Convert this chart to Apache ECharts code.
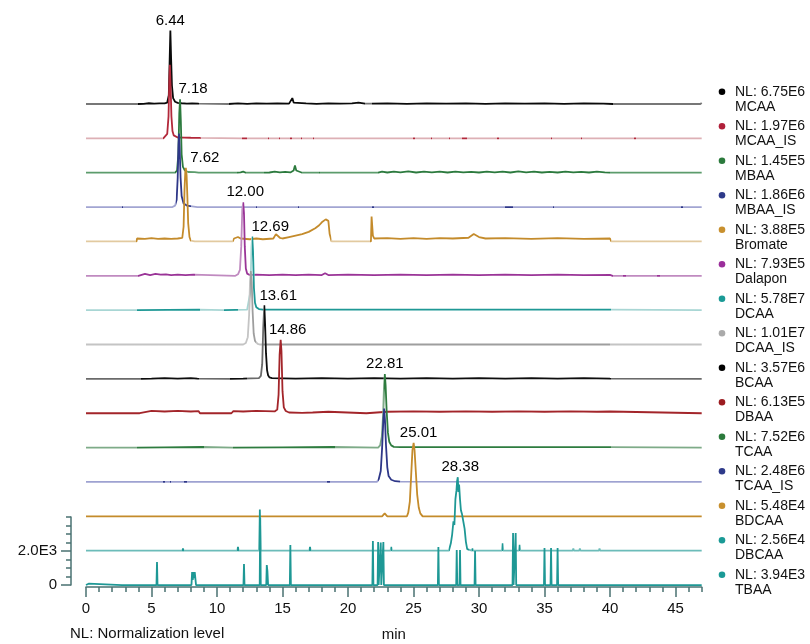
<!DOCTYPE html>
<html>
<head>
<meta charset="utf-8">
<script src="https://cdn.jsdelivr.net/npm/echarts@6/dist/echarts.min.js"></script>
<style>
  html, body { margin: 0; padding: 0; background: #fff; }
  #chart { width: 810px; height: 644px; }
</style>
</head>
<body>
<div id="chart"></div>
<script>
// ---- Data ---------------------------------------------------------------
// Traces listed top to bottom
const traceNames = ['MCAA', 'MCAA_IS', 'MBAA', 'MBAA_IS', 'Bromate', 'Dalapon', 'DCAA', 'DCAA_IS',
  'BCAA', 'DBAA', 'TCAA', 'TCAA_IS', 'BDCAA', 'DBCAA', 'TBAA'];
// Normalization level of each trace
const nlLevels = ['6.75E6', '1.97E6', '1.45E5', '1.86E6', '3.88E5', '7.93E5', '5.78E7', '1.01E7',
  '3.57E6', '6.13E5', '7.52E6', '2.48E6', '5.48E4', '2.56E4', '3.94E3'];
// Labelled retention times (min), null when a trace carries no label
const peakTimes = [6.44, null, 7.18, null, 7.62, 12.00, 12.69, null, 13.61, 14.86, 22.81, null, 25.01, 28.38, null];
// Axis tick labels
const xTickLabels = [0, 5, 10, 15, 20, 25, 30, 35, 40, 45];
const yTickLabels = [0, 2000];
const yMinorTicks = [500, 1000, 1500, 2500, 3000, 3500, 4000];

// Each trace: [time (min), relative intensity %]; TBAA in counts
const mcaa = [[0,0],[3.95,0],[4.0,0.8],[4.4,0.3],[4.8,1],[5.2,0.4],[5.6,0.9],[6.0,0.8],[6.2,2],[6.32,12],[6.38,55],[6.44,100],[6.5,60],[6.56,25],[6.65,8],[6.8,3],[7.0,1.5],[7.3,1],[7.7,0.5],[8.1,0.9],[8.6,0.4],[8.7,0],[10.85,0],[10.9,2],[11.0,0.4],[11.6,0.9],[12.3,0.3],[13.0,0.9],[13.8,0.4],[14.6,0.9],[15.5,0.5],[15.65,2],[15.75,8],[15.85,2],[16.0,0.5],[16.8,0.9],[17.6,0.3],[18.5,0.9],[19.4,0.4],[20.3,0.9],[20.8,1.8],[21.3,0.4],[21.8,0.6],[23,0.9],[24.5,0.3],[26,0.9],[27.5,0.4],[29,0.9],[30.5,0.3],[32,0.9],[33.5,0.4],[35,0.9],[36.5,0.3],[38,0.9],[39.5,0.4],[40.2,0],[46.9,0],[47,1.5]];
const mcaaIS = [[0,0],[4.2,0],[4.25,2],[4.3,0],[5.9,0],[6.05,1.5],[6.2,6],[6.3,30],[6.36,80],[6.40,100],[6.46,70],[6.52,30],[6.6,10],[6.7,4],[6.85,2],[7.0,1.2],[7.5,1],[8.0,0.8],[8.7,0.6],[8.8,0],[11.9,0],[12.0,2],[12.1,0],[12.2,2],[12.3,0],[13.9,0],[13.95,2],[14.0,0],[14.7,0],[14.75,2],[14.8,0],[15.6,0],[15.65,2],[15.7,0],[16.4,0],[16.45,2],[16.5,0],[17.3,0],[17.35,2],[17.4,0],[25.0,0],[25.05,2],[25.1,0],[26.3,0],[26.35,2],[26.4,0],[27.7,0],[27.75,2],[27.8,0],[28.7,0],[28.75,2],[28.9,0],[29.0,2],[29.1,0],[31.4,0],[31.45,2],[31.5,0],[35.5,0],[35.55,2],[35.6,0],[37.8,0],[37.85,2],[37.9,0],[41.85,0],[41.9,2.5],[41.95,0],[47,0]];
const mbaa = [[0,0],[0.95,0],[1.0,2],[1.05,0],[2.95,0],[3.0,1.5],[3.05,0],[4.75,0],[4.8,1.5],[4.85,0],[6.8,0],[6.95,3],[7.05,25],[7.12,80],[7.18,100],[7.24,70],[7.3,25],[7.4,8],[7.55,3],[7.8,1],[8.3,0.8],[8.6,0],[11.55,0],[11.6,1.5],[11.8,0.5],[12.0,1.5],[12.2,0],[13.6,0],[13.7,1.5],[14.0,0.3],[14.4,1.5],[14.8,0.4],[15.2,1.2],[15.6,0.4],[15.85,3],[15.95,10],[16.05,3],[16.2,0.5],[16.5,0],[17.8,0],[17.85,1.5],[17.9,0],[22.3,0],[22.6,1.5],[23.0,0.3],[23.5,1.5],[24.0,0.4],[24.6,1.8],[25.2,0.3],[25.8,1.5],[26.4,0.5],[27.0,1.5],[27.6,0.3],[28.2,1.5],[28.8,0.4],[29.4,1.2],[30.0,0.3],[30.6,1.5],[31.2,0.4],[31.8,1.5],[32.4,0.3],[33.0,1.8],[33.6,0.4],[34.2,1.5],[34.8,0.3],[35.4,1.2],[36.0,0.3],[36.6,1.5],[37.2,0.4],[37.8,1.2],[38.4,0.3],[39.0,1.5],[39.6,0.4],[40.0,0],[47,0]];
const mbaaIS = [[0,0],[2.75,0],[2.8,2],[2.85,0],[6.6,0],[6.8,2],[6.92,10],[7.0,40],[7.06,85],[7.10,100],[7.15,80],[7.22,40],[7.3,15],[7.45,5],[7.7,2],[8.1,1],[8.5,0],[12.95,0],[13.0,2],[13.05,0],[16.15,0],[16.2,2],[16.25,0],[21.85,0],[21.9,2],[21.95,0],[31.95,0],[32.0,2.5],[32.1,0],[32.5,0],[32.55,2.5],[32.6,0],[35.65,0],[35.7,2],[35.75,0],[45.45,0],[45.5,2],[45.55,0],[47,0]];
const bromate = [[0,0],[3.85,0],[3.9,4],[4.5,3.5],[5.0,4.5],[5.5,3.5],[6.0,4],[6.5,3.5],[7.0,4],[7.35,5],[7.45,20],[7.52,70],[7.58,95],[7.62,100],[7.68,90],[7.74,60],[7.8,25],[7.9,6],[8.0,1],[8.3,0],[11.2,0],[11.3,4],[11.6,6],[11.8,4],[12.5,3],[13.0,4],[13.5,3],[14.3,4],[14.5,10],[14.65,12],[14.8,5],[15.0,4],[15.5,6],[16.0,8],[16.5,10],[17.0,13],[17.5,18],[17.8,22],[18.0,26],[18.3,30],[18.5,28],[18.6,10],[18.75,0],[21.75,0],[21.8,34],[21.9,8],[22.0,4],[23,4.5],[24,3.5],[25,4.5],[26,3.5],[27,4.5],[28,4],[29.2,5],[29.6,10],[30.0,6],[30.5,4],[32,4.5],[34,3.5],[36,4.5],[38,3.5],[40,4],[40.1,0],[47,0]];
const dalapon = [[0,0],[4.0,0],[4.1,1.5],[4.5,2.5],[4.9,1],[5.3,2.5],[5.7,1.5],[6.1,2],[6.5,1],[7.0,1.5],[7.6,1],[8.2,1.5],[8.3,0],[11.4,0],[11.6,2],[11.75,8],[11.85,40],[11.93,90],[12.0,100],[12.06,85],[12.12,40],[12.2,10],[12.3,3],[12.5,1],[13.0,1.5],[14.0,1],[15.0,1.5],[16.0,1],[17.0,1.5],[18.0,1],[18.25,3.5],[18.5,1],[20,1.5],[22,1],[24,1.5],[26,1],[28,1.5],[30,1],[32,1.5],[34,1],[36,1.5],[38,1],[40,1.2],[40.2,0],[41.0,0],[41.1,2],[41.2,0],[43.6,0],[43.7,2],[43.8,0],[47,0]];
const dcaa = [[0,0],[3.9,0],[4.0,0.6],[8.6,0.6],[8.7,0],[10.5,0],[10.6,0.6],[12.3,0.6],[12.45,3],[12.55,25],[12.63,85],[12.69,100],[12.75,80],[12.82,30],[12.9,10],[13.0,4],[13.2,1.5],[13.5,0.6],[40,0.6],[40.1,0],[47,0]];
const dcaaIS = [[0,0],[12.0,0],[12.2,2],[12.35,10],[12.45,40],[12.52,85],[12.58,100],[12.65,85],[12.72,45],[12.8,15],[12.9,5],[13.1,1],[13.3,0],[34.95,0],[35.0,1.5],[35.05,0],[42.65,0],[42.7,2],[42.75,0],[47,0]];
const bcaa = [[0,0],[4.2,0],[4.3,1],[5,0.4],[6,1],[7,0.4],[8,1],[8.5,0.4],[8.6,0],[11.0,0],[11.1,1],[12,0.4],[13.2,1],[13.35,4],[13.45,20],[13.53,70],[13.61,100],[13.67,75],[13.74,35],[13.82,12],[13.9,5],[14.0,2],[14.2,1],[16,0.4],[18,1],[20,0.4],[22,1],[24,0.4],[26,1],[28,0.4],[30,1],[32,0.4],[34,1],[36,0.4],[38,1],[40,0.4],[40.1,0],[47,0]];
const dbaa = [[0,0],[4.1,0],[4.25,2.5],[5,3.2],[6,2.4],[7,3.2],[8,2.4],[8.6,2.8],[8.7,0],[11.1,0],[11.25,3],[12,2.4],[13,3.2],[14.4,2.5],[14.6,5],[14.7,25],[14.78,80],[14.86,100],[14.92,85],[15.0,30],[15.1,8],[15.25,3],[15.5,1],[16.5,0.5],[17.3,1],[17.4,2.5],[18.5,2],[18.6,0],[21.4,0],[21.5,2.5],[23,2],[25,2.6],[27,2],[29,2.6],[31,2],[33,2.6],[35,2],[37,2.6],[39,2],[40,2.4],[40.1,0],[47,0]];
const tcaa = [[0,0],[3.9,0],[4.0,0.8],[6,0.4],[8.9,0.8],[9.0,0],[11.2,0],[11.3,0.8],[15,0.4],[18.9,0.8],[19.0,0],[22.3,0],[22.45,3],[22.58,15],[22.68,45],[22.75,85],[22.81,100],[22.87,85],[22.95,50],[23.05,20],[23.15,8],[23.3,3],[23.5,1],[24,0.6],[30,0.6],[40,0.6],[40.1,0],[47,0]];
const tcaaIS = [[0,0],[5.9,0],[5.95,2],[6.0,0],[6.4,0],[6.45,2],[6.5,0],[7.5,0],[7.55,2],[7.65,2],[7.7,0],[18.4,0],[18.5,2],[18.6,0],[22.2,0],[22.35,4],[22.5,15],[22.6,45],[22.7,85],[22.76,100],[22.82,85],[22.9,50],[23.0,20],[23.1,8],[23.3,3],[23.6,1],[24,0.5],[47,0]];
const bdcaa = [[0,0],[4.75,0],[4.8,2],[4.85,0],[8.45,0],[8.5,2],[8.55,0],[10.95,0],[11.0,2],[11.05,0],[11.95,0],[12.0,2],[12.05,0],[22.6,0],[22.7,2],[22.8,4],[22.9,2],[23.0,0],[24.5,0],[24.6,5],[24.72,20],[24.82,55],[24.92,90],[25.01,100],[25.08,90],[25.18,60],[25.28,30],[25.4,12],[25.52,4],[25.7,0],[29.6,0],[29.7,2],[29.8,0],[47,0]];
const dbcaa = [[0,0],[0.65,0],[0.7,1.5],[0.75,0],[2.45,0],[2.5,1.5],[2.55,0],[7.35,0],[7.4,3],[7.45,0],[11.55,0],[11.6,5],[11.65,0],[13.2,0],[13.27,56],[13.33,0],[17.05,0],[17.1,5],[17.15,0],[23.25,0],[23.3,5],[23.35,0],[26.5,0],[26.6,2],[26.7,0],[27.7,0],[27.85,10],[27.95,22],[28.05,40],[28.12,35],[28.2,70],[28.28,82],[28.33,95],[28.38,100],[28.43,80],[28.48,90],[28.55,70],[28.62,55],[28.7,50],[28.8,48],[28.9,30],[29.0,12],[29.1,2],[29.2,0],[29.45,0],[29.5,3],[29.55,0],[31.75,0],[31.8,10],[31.85,0],[33.05,0],[33.1,8],[33.15,0],[37.15,0],[37.2,3],[37.25,0],[37.65,0],[37.7,3],[37.75,0],[39.15,0],[39.2,3],[39.25,0],[47,0]];
const tbaa = [[0,0],[0.15,0],[0.2,80],[0.25,0],[2.75,0],[2.8,80],[2.85,0],[5.38,0],[5.42,1350],[5.46,0],[8.05,0],[8.1,760],[8.15,300],[8.2,760],[8.25,400],[8.3,760],[8.35,700],[8.4,0],[12.02,0],[12.06,1235],[12.1,0],[13.26,0],[13.3,3940],[13.34,0],[13.76,0],[13.8,1180],[13.85,800],[13.9,0],[15.56,0],[15.6,2350],[15.64,0],[19.45,0],[19.5,80],[19.55,0],[21.86,0],[21.9,2590],[21.94,0],[22.26,0],[22.3,2530],[22.34,0],[22.46,0],[22.5,2500],[22.54,0],[22.66,0],[22.7,2530],[22.74,0],[26.86,0],[26.9,2235],[26.94,0],[28.26,0],[28.3,2060],[28.34,0],[28.51,0],[28.55,2060],[28.59,0],[29.66,0],[29.7,2000],[29.74,0],[32.56,0],[32.6,3060],[32.64,0],[32.76,0],[32.8,3060],[32.84,0],[34.96,0],[35.0,2180],[35.04,0],[35.46,0],[35.5,2180],[35.54,0],[35.96,0],[36.0,2180],[36.04,0],[42.25,0],[42.3,80],[42.35,0],[47,0]];

const traces = [mcaa, mcaaIS, mbaa, mbaaIS, bromate, dalapon, dcaa, dcaaIS, bcaa, dbaa, tcaa, tcaaIS, bdcaa, dbcaa, tbaa];

// ---- Styling --------------------------------------------------------------
const FONT = "'Liberation Sans', Arial, Helvetica, sans-serif";
const AXIS_COLOR = '#4a7272';
const X_MAX = 47;
const PLOT_LEFT = 86;
const PLOT_WIDTH = 615.7;
const BASE_TOP = 104;      // baseline of the first trace
const STEP = 34.36;        // vertical spacing between baselines
const PEAK_PX = 73.5;      // height of a 100 % peak
const TBAA_AXIS_PX = 68;   // 0..4000 counts on the labelled axis
const LEGEND_TOP = 91.7;
const LEGEND_STEP = 34.5;
const LINE_WIDTH = 1.8;

const legendColors = ['#000000', '#b0203a', '#2b7a3c', '#2e3a8a', '#c8902e', '#9a2e9a', '#1a9a96', '#aaaaaa',
  '#000000', '#9c1c20', '#2b7a3c', '#2e3a8a', '#c8902e', '#1a9a96', '#1a9a96'];
// [dense colour, sparse colour]
const lineColors = [
  ['#0a0a0a', '#777777'], ['#b2283a', '#ddb0b5'], ['#2c7a3e', '#5c9c6c'], ['#2e3788', '#a2a5d2'],
  ['#c48b2b', '#e2caa0'], ['#9a3497', '#c08ac0'], ['#1e9895', '#a8d6d4'], ['#9e9e9e', '#c4c4c4'],
  ['#0d0d0d', '#6a6a6a'], ['#a3252a', null], ['#2e7c3f', '#7eab88'], ['#2e3788', '#9ea2d1'],
  ['#c48b2b', null], ['#1e9895', '#6cbcb9'], ['#1e9895', null]
];
// time windows drawn in the dense colour
const denseWindows = [
  [[4.0,8.6],[10.9,21.3],[21.8,40.2]],
  [[5.9,8.8],[11.9,12.3],[13.9,14.0],[14.7,14.8],[15.6,15.7],[16.4,16.5],[17.3,17.4],[25.0,25.1],[26.3,26.4],[27.7,27.8],[28.7,29.1],[31.4,31.5],[35.5,35.6],[37.8,37.9],[41.85,41.95]],
  [[6.8,7.6],[11.55,12.2],[13.6,16.5],[17.8,17.9],[22.3,40]],
  [[2.75,2.85],[6.9,8.0],[12.95,13.05],[16.15,16.25],[21.85,21.95],[31.95,32.6],[35.65,35.75],[45.45,45.55]],
  [[3.85,8.0],[11.2,18.7],[21.7,40.1]],
  [[4,8.3],[11.95,12.5],[12.9,40.2],[41.0,41.2],[43.6,43.8]],
  [[3.9,8.7],[10.5,11.6],[12.65,40.1]],
  [[12.5,13.0],[13.5,40]],
  [[4.2,8.6],[11,12.3],[13.55,40.1]],
  null,
  [[3.9,9],[11.2,19],[22.75,40.1]],
  [[5.9,6.0],[6.4,6.5],[7.5,7.7],[18.4,18.6],[22.3,24.0]],
  null,
  [[7.35,7.45],[11.55,11.65],[13.2,13.35],[17.05,17.15],[23.25,23.35],[27.7,29.2],[29.45,29.55],[31.75,31.85],[33.05,33.15]],
  null
];
// horizontal nudge of each retention-time label (px)
const peakLabelShift = [0, 0, 13, 0, 19, 2, 18, 0, 14, 7, 0, 0, 5, 2.5, 0];

// ---- Build ------------------------------------------------------------------
const grids = [], xAxes = [], yAxes = [], series = [], visualMaps = [];
const last = traces.length - 1;

traces.forEach((data, i) => {
  const base = BASE_TOP + STEP * i;
  const h = i === last ? TBAA_AXIS_PX : PEAK_PX;
  grids.push({ left: PLOT_LEFT, width: PLOT_WIDTH, top: base - h, height: h,
    containLabel: false, outerBoundsMode: 'none' });
  xAxes.push({ gridIndex: i, type: 'value', min: 0, max: X_MAX, show: false });
  yAxes.push({ gridIndex: i, type: 'value', min: 0, max: i === last ? 4000 : 100, show: false });

  const segmented = !!denseWindows[i];
  const lineStyle = { width: LINE_WIDTH };
  // a fixed colour would override the per-window colouring
  if (!segmented) lineStyle.color = lineColors[i][0];

  const s = {
    type: 'line', name: traceNames[i], xAxisIndex: i, yAxisIndex: i, data: data,
    showSymbol: false, symbol: 'none', clip: false, silent: true, animation: false,
    color: lineColors[i][0], lineStyle: lineStyle
  };
  if (peakTimes[i] !== null) {
    const apex = data.find(p => p[0] === peakTimes[i]);
    s.markPoint = {
      silent: true, animation: false, symbol: 'circle', symbolSize: 1,
      itemStyle: { color: 'rgba(0,0,0,0)' },
      label: { show: true, position: 'top', distance: 2, offset: [peakLabelShift[i], 0],
        color: '#000', fontSize: 15, fontFamily: FONT,
        formatter: p => Number(p.value).toFixed(2) },
      data: [{ coord: apex, value: peakTimes[i] }]
    };
  }
  series.push(s);

  if (segmented) {
    visualMaps.push({
      type: 'piecewise', show: false, seriesIndex: i, dimension: 0,
      pieces: denseWindows[i].map(w => ({ min: w[0], max: w[1], color: lineColors[i][0] })),
      outOfRange: { color: lineColors[i][1] }
    });
  }
});

// Visible time axis under the bottom trace
const xMinor = [];
for (let t = 0; t <= X_MAX; t++) if (t % 5 !== 0) xMinor.push(t);

xAxes.push({
  gridIndex: last, type: 'value', min: 0, max: X_MAX, position: 'bottom', offset: 2,
  axisLine: { show: true, onZero: false, lineStyle: { color: AXIS_COLOR, width: 1.5 } },
  axisTick: { show: true, length: 10, customValues: xTickLabels, lineStyle: { color: AXIS_COLOR, width: 1.5 } },
  axisLabel: { show: true, customValues: xTickLabels, fontSize: 15, color: '#111', margin: 14, fontFamily: FONT },
  splitLine: { show: false },
  name: 'min', nameLocation: 'middle', nameGap: 40,
  nameTextStyle: { fontSize: 15, color: '#111', fontFamily: FONT }
});
xAxes.push({
  gridIndex: last, type: 'value', min: 0, max: X_MAX, position: 'bottom', offset: 2,
  axisLine: { show: false, onZero: false },
  axisTick: { show: true, length: 5, customValues: xMinor, lineStyle: { color: AXIS_COLOR, width: 1.5 } },
  axisLabel: { show: false }, splitLine: { show: false }
});

// Visible intensity axis for the bottom trace
yAxes.push({
  gridIndex: last, type: 'value', min: 0, max: 4000, position: 'left', offset: 15,
  axisLine: { show: true, onZero: false, lineStyle: { color: AXIS_COLOR, width: 1.5 } },
  axisTick: { show: true, length: 10, customValues: yTickLabels, lineStyle: { color: AXIS_COLOR, width: 1.5 } },
  axisLabel: { show: true, customValues: yTickLabels, fontSize: 15, color: '#111', margin: 14, fontFamily: FONT,
    formatter: v => v === 0 ? '0' : (v / 1000).toFixed(1) + 'E3' },
  splitLine: { show: false }
});
yAxes.push({
  gridIndex: last, type: 'value', min: 0, max: 4000, position: 'left', offset: 15,
  axisLine: { show: false, onZero: false },
  axisTick: { show: true, length: 5, customValues: yMinorTicks, lineStyle: { color: AXIS_COLOR, width: 1.5 } },
  axisLabel: { show: false }, splitLine: { show: false }
});

// Legend column: dot, normalization level, compound name
const graphics = [];
traceNames.forEach((name, i) => {
  const y = LEGEND_TOP + LEGEND_STEP * i;
  graphics.push({ type: 'circle', silent: true, shape: { cx: 722, cy: y, r: 3.3 }, style: { fill: legendColors[i] } });
  graphics.push({ type: 'text', silent: true, x: 735, y: y,
    style: { text: 'NL: ' + nlLevels[i], fill: '#111', fontSize: 14, fontFamily: FONT, align: 'left', verticalAlign: 'middle' } });
  graphics.push({ type: 'text', silent: true, x: 735, y: y + 15,
    style: { text: name, fill: '#111', fontSize: 14, fontFamily: FONT, align: 'left', verticalAlign: 'middle' } });
});
graphics.push({ type: 'text', silent: true, x: 70, y: 634,
  style: { text: 'NL: Normalization level', fill: '#111', fontSize: 15, fontFamily: FONT, align: 'left', verticalAlign: 'middle' } });

const chart = echarts.init(document.getElementById('chart'), null, { renderer: 'canvas' });
chart.setOption({
  animation: false,
  backgroundColor: '#ffffff',
  grid: grids,
  xAxis: xAxes,
  yAxis: yAxes,
  visualMap: visualMaps,
  series: series,
  graphic: graphics
});
</script>
</body>
</html>
